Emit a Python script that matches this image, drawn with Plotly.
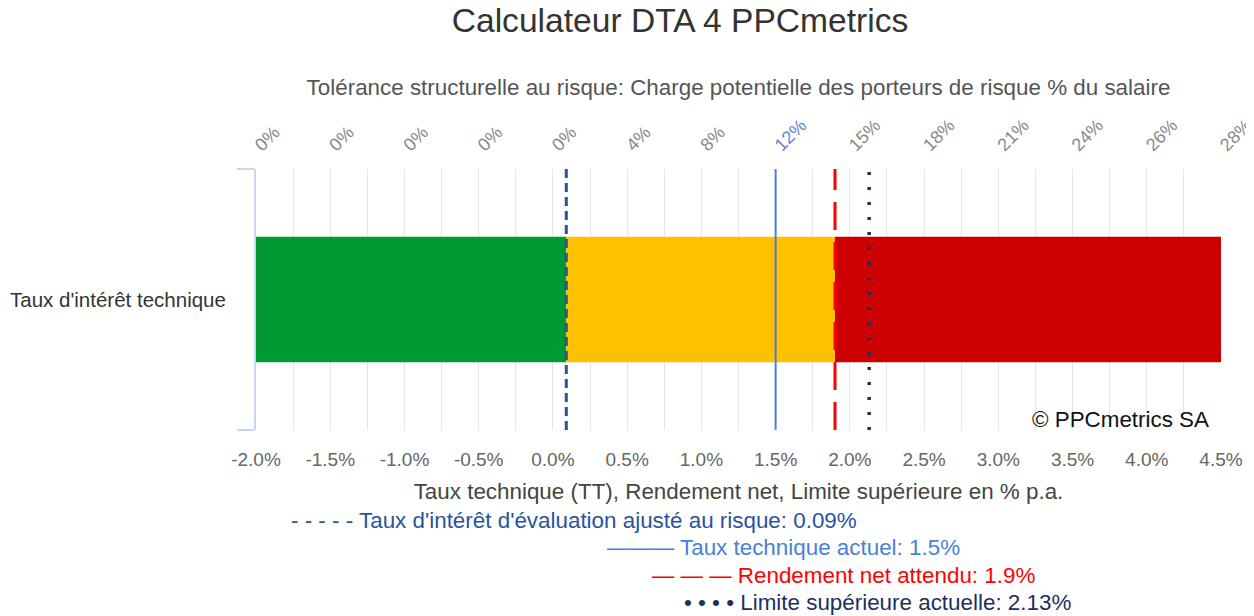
import plotly.graph_objects as go

# ---- data ----
category = ["Taux d'intérêt technique"]
axis_min = -2.0
axis_max = 4.5
risk_adjusted_rate = 0.09     # Taux d'intérêt d'évaluation ajusté au risque
technical_rate = 1.5          # Taux technique actuel
net_return = 1.9              # Rendement net attendu
upper_limit = 2.13            # Limite supérieure actuelle

zone_starts = [axis_min, risk_adjusted_rate, net_return]
zone_ends = [risk_adjusted_rate, net_return, axis_max]
zone_colors = ["#009933", "#ffc000", "#cc0000"]

bottom_tickvals = [-2.0, -1.5, -1.0, -0.5, 0.0, 0.5, 1.0, 1.5, 2.0, 2.5, 3.0, 3.5, 4.0, 4.5]
top_ticklabels = ["0%", "0%", "0%", "0%", "0%", "4%", "8%", "12%", "15%", "18%", "21%", "24%", "26%", "28%"]

marker_values = [risk_adjusted_rate, technical_rate, net_return, upper_limit]
marker_labels = [
    "- - - - - Taux d'intérêt d'évaluation ajusté au risque: 0.09%",
    "——— Taux technique actuel: 1.5%",
    "— — — Rendement net attendu: 1.9%",
    "• • • • Limite supérieure actuelle: 2.13%",
]
marker_colors = ["#2a539e", "#4a7fd9", "#ff0000", "#1c2f5e"]
marker_dashes = ["9px,5px", "solid", "28px,12px", "3px,12px"]
marker_widths = [3, 2, 3, 3.5]

FONT = "Liberation Sans, Arial, sans-serif"

fig = go.Figure()
for s, e, c in zip(zone_starts, zone_ends, zone_colors):
    fig.add_trace(go.Bar(
        y=category, x=[e - s], base=[s], orientation="h",
        marker=dict(color=c, line=dict(width=0)), width=0.48,
        showlegend=False, hoverinfo="skip",
    ))

# invisible trace on top axis so it renders
fig.add_trace(go.Scatter(x=[axis_min, axis_max], y=category * 2, xaxis="x2",
                         mode="markers", marker=dict(opacity=0), showlegend=False, hoverinfo="skip"))

top_text = []
for v, t in zip(bottom_tickvals, top_ticklabels):
    if abs(v - technical_rate) < 1e-9:
        top_text.append("<span style='color:#5b84d6'>" + t + "</span>")
    else:
        top_text.append(t)

for v, c, d, w in zip(marker_values, marker_colors, marker_dashes, marker_widths):
    fig.add_shape(type="line", xref="x", yref="paper", x0=v, x1=v, y0=0, y1=1,
                  line=dict(color=c, width=w, dash=d), layer="above")

label_offsets = [90, 117, 145, 172]
for v, t, c, off in zip(marker_values, marker_labels, marker_colors, label_offsets):
    fig.add_annotation(x=v, y=0, xref="x", yref="paper", text=t, showarrow=False,
                       xanchor="center", yanchor="middle", xshift=8, yshift=-off,
                       font=dict(family=FONT, size=22.4, color=c))

fig.add_annotation(x=1, y=0, xref="paper", yref="paper", text="© PPCmetrics SA",
                   showarrow=False, xanchor="right", yanchor="bottom", xshift=-10, yshift=-4,
                   font=dict(family=FONT, size=22.4, color="#111111"))

fig.update_layout(
    width=1254, height=616,
    margin=dict(l=248, r=41, t=161, b=194, autoexpand=False),
    paper_bgcolor="white", plot_bgcolor="white",
    barmode="overlay",
    title=dict(text="Calculateur DTA 4 PPCmetrics", x=(672 - 248) / 965, xanchor="center",
               y=0.9805, yanchor="middle", xref="paper",
               font=dict(family=FONT, size=33.6, color="#333333")),
    font=dict(family=FONT),
    xaxis=dict(range=[axis_min, axis_max], tickvals=bottom_tickvals,
               ticktext=[f"{v:.1f}%" for v in bottom_tickvals],
               showgrid=True, gridcolor="#e6e6e6", gridwidth=1,
               minor=dict(dtick=0.25, tick0=axis_min, showgrid=True, gridcolor="#e6e6e6"),
               zeroline=False, showline=False, automargin=False,
               ticks="outside", ticklen=12, tickcolor="rgba(0,0,0,0)",
               tickfont=dict(size=19, color="#666666"),
               title=dict(text="Taux technique (TT), Rendement net, Limite supérieure en % p.a.",
                          font=dict(size=22.4, color="#444444"), standoff=14)),
    xaxis2=dict(range=[axis_min, axis_max], overlaying="x", side="top", tickvals=bottom_tickvals,
                ticktext=top_text, tickangle=-45, showgrid=False, zeroline=False, showline=False,
                automargin=False,
                ticks="outside", ticklen=6, tickcolor="rgba(0,0,0,0)",
                tickfont=dict(size=18, color="#888888"),
                title=dict(text="Tolérance structurelle au risque: Charge potentielle des porteurs de risque % du salaire",
                           font=dict(size=22.4, color="#555555"), standoff=13)),
    yaxis=dict(type="category", range=[-0.5, 0.5], showgrid=False, zeroline=False,
               showline=True, linecolor="#c8d5ee", linewidth=2, automargin=False,
               ticks="outside", tickson="boundaries", ticklen=17, tickcolor="#c8d5ee", tickwidth=2,
               ticklabelstandoff=24,
               tickfont=dict(size=20.5, color="#333333")),
)

fig.write_html("out.html")
